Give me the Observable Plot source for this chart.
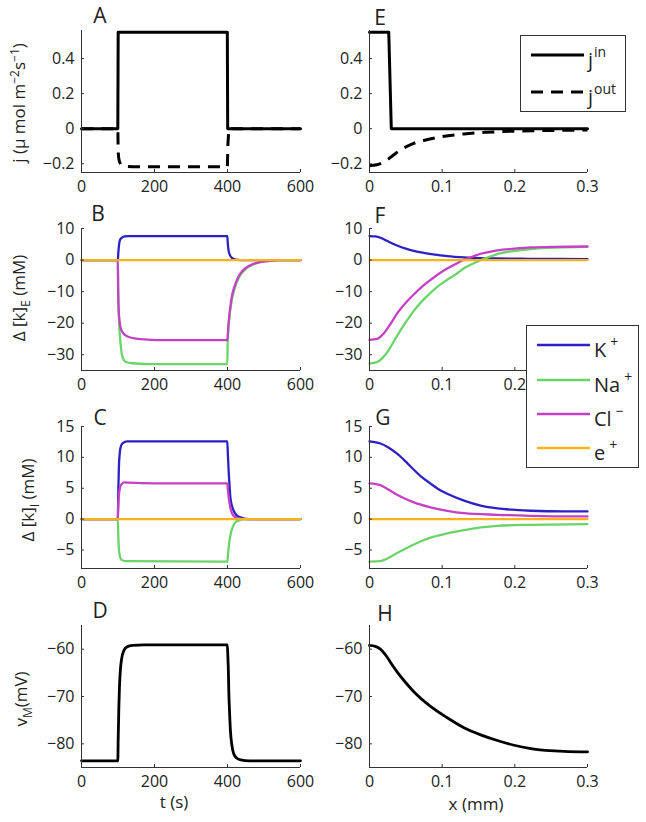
<!DOCTYPE html>
<html><head><meta charset="utf-8">
<script src="https://cdn.jsdelivr.net/npm/d3@7"></script>
<script src="https://cdn.jsdelivr.net/npm/@observablehq/plot@0.6"></script>
<style>
html,body{margin:0;padding:0;background:#fff;}
#root{position:relative;width:646px;height:822px;overflow:hidden;font-family:'Open Sans',sans-serif;color:#222;}
.pl{position:absolute;}
.lab{position:absolute;white-space:nowrap;transform:translate(-50%,-50%);line-height:1;}
.ylab{position:absolute;white-space:nowrap;transform:translate(-50%,-50%) rotate(-90deg);font-size:17px;line-height:1;}
.ylab sup,.ylab sub{font-size:12px;}
</style></head>
<body><div id="root"></div>
<script>
// ---------- colours ----------
const colK = "#2c22c4", colNa = "#6ad46a", colCl = "#c640c6", colE = "#f8b31c";
// ---------- axes ----------
const tDomain = [0, 600], tTicks = [0, 200, 400, 600];
const xDomain = [0, 0.3], xTicks = [0, 0.1, 0.2, 0.3];
const xTicksF = [0, 0.1, 0.2]; // 0.3 hidden under the ion legend
const jDomain = [-0.25, 0.56], jTicks = [-0.2, 0, 0.2, 0.4];
const kEDomain = [-35, 10], kETicks = [-30, -20, -10, 0, 10];
const kIDomain = [-8, 15], kITicks = [-5, 0, 5, 10, 15];
const vDomain = [-85, -55], vTicks = [-80, -70, -60];

// ---------- Panel A (time) ----------
const A_tIn = [0, 99.5, 100.5, 399.5, 400.5, 600];
const A_in = [0, 0, 0.55, 0.55, 0, 0];
const A_tOut = [0, 99.5, 100.5, 103, 107, 112, 120, 140, 399.5, 401, 403, 406, 409, 415, 600];
const A_out = [0, 0, -0.13, -0.18, -0.2, -0.21, -0.215, -0.217, -0.217, -0.1, -0.03, 0.005, 0.003, 0, 0];
// ---------- Panel E (space) ----------
const E_xIn = [0, 0.0265, 0.030, 0.3];
const E_in = [0.55, 0.55, 0, 0];
const E_xOut = [0, 0.01, 0.02, 0.03, 0.045, 0.06, 0.08, 0.1, 0.13, 0.16, 0.2, 0.25, 0.3];
const E_out = [-0.212, -0.206, -0.19, -0.16, -0.115, -0.085, -0.062, -0.045, -0.03, -0.021, -0.014, -0.01, -0.008];

// ---------- Panel B ----------
const B_tK = [0, 99.5, 101, 103, 106, 111, 118, 130, 399.5, 401, 403, 407, 412, 420, 435, 600];
const B_K = [0, 0, 2.5, 5, 6.5, 7.1, 7.5, 7.6, 7.6, 5, 3, 1.5, 0.7, 0.2, 0, 0];
const B_tNa = [0, 99.5, 100.5, 102, 104, 107, 110, 115, 122, 140, 200, 399.5, 400.5, 402, 405, 408, 412, 417, 425, 435, 450, 465, 485, 510, 540, 600];
const B_Na = [0, 0, -10, -17, -22, -26.5, -29.5, -31.5, -32.3, -32.7, -33, -33, -25.8, -22.5, -18.5, -15.5, -12.5, -10, -7.2, -4.8, -2.8, -1.7, -0.8, -0.3, 0, 0];
const B_tCl = [0, 99.5, 100.5, 102, 104, 107, 112, 120, 130, 150, 180, 230, 399.5, 400.5, 402, 405, 408, 412, 417, 425, 435, 450, 465, 485, 510, 540, 600];
const B_Cl = [0, 0, -10, -16, -19, -21.4, -22.8, -23.8, -24.4, -24.9, -25.2, -25.4, -25.4, -24.5, -21.5, -17.5, -14.6, -11.5, -9.2, -6.5, -4.3, -2.5, -1.5, -0.7, -0.3, 0, 0];
const B_tE = [0, 600];
const B_E = [0, 0];
// ---------- Panel F ----------
const F_xK = [0, 0.008, 0.016, 0.024, 0.03, 0.038, 0.05, 0.061, 0.075, 0.09, 0.107, 0.13, 0.153, 0.176, 0.22, 0.26, 0.3];
const F_K = [7.6, 7.5, 7.0, 6.1, 5.4, 4.6, 3.6, 2.9, 2.3, 1.7, 1.25, 0.85, 0.6, 0.5, 0.4, 0.33, 0.3];
const F_xNa = [0, 0.0106, 0.0244, 0.038, 0.05, 0.061, 0.072, 0.084, 0.095, 0.107, 0.12, 0.13, 0.142, 0.153, 0.165, 0.176, 0.199, 0.222, 0.268, 0.3];
const F_Na = [-32.8, -32.3, -29.2, -24, -19.7, -16.1, -13.1, -10.4, -8.2, -6.25, -4.3, -2.6, -1.2, 0, 1.0, 1.9, 2.9, 3.5, 4.0, 4.2];
const F_xCl = [0, 0.0106, 0.0198, 0.029, 0.038, 0.05, 0.061, 0.072, 0.084, 0.095, 0.107, 0.12, 0.13, 0.142, 0.153, 0.165, 0.176, 0.199, 0.222, 0.25, 0.3];
const F_Cl = [-25.3, -25, -23.2, -20.2, -16.9, -13.5, -10.9, -8.5, -6.3, -4.4, -2.7, -1.1, 0.1, 1.1, 2.0, 2.6, 3.1, 3.6, 4.0, 4.2, 4.3];
const F_xE = [0, 0.3];
const F_E = [0, 0];

// ---------- Panel C ----------
const C_tK = [0, 99.5, 101, 102.5, 105, 108, 113, 125, 399.5, 401, 403.6, 406, 408, 412, 417, 425, 436, 450, 470, 600];
const C_K = [0, 0, 5, 8.5, 10.8, 11.8, 12.3, 12.6, 12.6, 10.5, 7.3, 5, 3.5, 2.2, 1.35, 0.6, 0.27, 0.05, 0, 0];
const C_tNa = [0, 99.5, 101, 103, 106, 110, 120, 399.5, 401, 403, 406, 410, 415, 422, 432, 450, 600];
const C_Na = [0, 0, -3, -5.2, -6.2, -6.6, -6.8, -6.9, -6.0, -4.7, -3.3, -2.1, -1.2, -0.5, -0.2, 0, 0];
const C_tCl = [0, 99.5, 101, 103, 106, 110, 118, 130, 200, 399.5, 401, 404, 408, 412, 417, 425, 440, 460, 600];
const C_Cl = [0, 0, 2.5, 4.2, 5.2, 5.7, 5.95, 5.9, 5.8, 5.8, 4.8, 3.2, 1.8, 1.0, 0.5, 0.2, 0.05, 0, 0];
const C_tE = [0, 600];
const C_E = [0, 0];
// ---------- Panel G ----------
const G_xK = [0, 0.015, 0.026, 0.038, 0.05, 0.061, 0.072, 0.084, 0.095, 0.107, 0.13, 0.153, 0.176, 0.2, 0.222, 0.268, 0.3];
const G_K = [12.6, 12.25, 11.6, 10.6, 9.3, 8.0, 6.8, 5.75, 4.85, 4.1, 3.0, 2.2, 1.75, 1.5, 1.35, 1.25, 1.25];
const G_xNa = [0, 0.015, 0.026, 0.038, 0.05, 0.061, 0.084, 0.107, 0.13, 0.153, 0.176, 0.222, 0.3];
const G_Na = [-6.9, -6.8, -6.3, -5.5, -4.75, -4.1, -3.0, -2.33, -1.8, -1.35, -1.08, -0.92, -0.81];
const G_xCl = [0, 0.015, 0.026, 0.038, 0.05, 0.061, 0.084, 0.107, 0.13, 0.176, 0.222, 0.3];
const G_Cl = [5.8, 5.5, 4.8, 3.95, 3.25, 2.7, 1.9, 1.35, 0.97, 0.7, 0.54, 0.43];
const G_xE = [0, 0.3];
const G_E = [0, 0];

// ---------- Panel D ----------
const D_t = [0, 99.5, 100.5, 102.3, 104, 106.8, 110, 116, 125, 140, 170, 399.5, 401, 402.5, 403.6, 405.5, 408, 412, 417, 425, 436, 460, 600];
const D_v = [-83.6, -83.6, -79, -72.4, -68, -64.1, -62, -60.3, -59.5, -59.2, -59.1, -59.1, -61.5, -65, -69, -73, -77.2, -80.3, -82.1, -83, -83.4, -83.6, -83.6];
// ---------- Panel H ----------
const H_x = [0, 0.008, 0.015, 0.022, 0.029, 0.038, 0.05, 0.061, 0.084, 0.107, 0.13, 0.153, 0.176, 0.199, 0.222, 0.268, 0.3];
const H_v = [-59.2, -59.4, -60.0, -61.2, -62.8, -64.8, -67.1, -69, -72.1, -74.5, -76.6, -78.1, -79.3, -80.3, -81, -81.6, -81.7];

// ---------- layout ----------
const FONT = "'Open Sans', sans-serif";
const rowTops = [30, 228, 426, 625];
const plotH = 142;
const colLeft = [{svgLeft: 0, mL: 81, plotW: 219}, {svgLeft: 323, mL: 46, plotW: 218}];
const SVG_W = 323, M_TOP = 30, M_BOT = 30;
const fmt = d3.format("~g");

const zip = (xs, ys) => xs.map((x, i) => ({x, y: ys[i]}));
const root = document.getElementById("root");

function panel(row, col, xd, xt, yd, yt, series) {
  const c = colLeft[col];
  const marks = series.map(s => Plot.line(zip(s.x, s.y), {
    x: "x", y: "y", stroke: s.color, strokeWidth: s.w,
    strokeDasharray: s.dash || null, curve: s.curve || "monotone-x",
    strokeLinejoin: "round", strokeLinecap: s.dash ? "butt" : "round"
  }));
  marks.push(
    Plot.ruleX([xd[0]], {stroke: "#333", strokeWidth: 1}),
    Plot.ruleY([yd[0]], {stroke: "#333", strokeWidth: 1}),
    Plot.tickX(xt, {x: d => d, stroke: "#333", insetTop: plotH - 3}),
    Plot.tickY(yt, {y: d => d, stroke: "#333", insetRight: c.plotW - 3})
  );
  const svg = Plot.plot({
    width: SVG_W, height: M_TOP + plotH + M_BOT,
    marginLeft: c.mL, marginRight: SVG_W - c.mL - c.plotW,
    marginTop: M_TOP, marginBottom: M_BOT,
    x: {domain: xd, ticks: xt, tickSize: 0, tickPadding: 8, tickFormat: fmt, label: null},
    y: {domain: yd, ticks: yt, tickSize: 0, tickPadding: 7, tickFormat: fmt, label: null},
    style: {fontFamily: FONT, fontSize: "16px", color: "#222", background: "transparent", overflow: "visible"},
    marks
  });
  svg.classList.add("pl");
  svg.style.left = c.svgLeft + "px";
  svg.style.top = (rowTops[row] - M_TOP) + "px";
  root.appendChild(svg);
}

const thick = 3, thin = 2.3;
panel(0, 0, tDomain, tTicks, jDomain, jTicks, [
  {x: A_tOut, y: A_out, color: "#000", w: thick, dash: "12,8", curve: "monotone-x"},
  {x: A_tIn, y: A_in, color: "#000", w: thick, curve: "linear"}
]);
panel(0, 1, xDomain, xTicks, jDomain, jTicks, [
  {x: E_xOut, y: E_out, color: "#000", w: thick, dash: "12,8"},
  {x: E_xIn, y: E_in, color: "#000", w: thick, curve: "linear"}
]);
panel(1, 0, tDomain, tTicks, kEDomain, kETicks, [
  {x: B_tK, y: B_K, color: colK, w: thin},
  {x: B_tNa, y: B_Na, color: colNa, w: thin},
  {x: B_tCl, y: B_Cl, color: colCl, w: thin},
  {x: B_tE, y: B_E, color: colE, w: thin, curve: "linear"}
]);
panel(1, 1, xDomain, xTicksF, kEDomain, kETicks, [
  {x: F_xK, y: F_K, color: colK, w: thin},
  {x: F_xNa, y: F_Na, color: colNa, w: thin},
  {x: F_xCl, y: F_Cl, color: colCl, w: thin},
  {x: F_xE, y: F_E, color: colE, w: thin, curve: "linear"}
]);
panel(2, 0, tDomain, tTicks, kIDomain, kITicks, [
  {x: C_tK, y: C_K, color: colK, w: thin},
  {x: C_tNa, y: C_Na, color: colNa, w: thin},
  {x: C_tCl, y: C_Cl, color: colCl, w: thin},
  {x: C_tE, y: C_E, color: colE, w: thin, curve: "linear"}
]);
panel(2, 1, xDomain, xTicks, kIDomain, kITicks, [
  {x: G_xK, y: G_K, color: colK, w: thin},
  {x: G_xNa, y: G_Na, color: colNa, w: thin},
  {x: G_xCl, y: G_Cl, color: colCl, w: thin},
  {x: G_xE, y: G_E, color: colE, w: thin, curve: "linear"}
]);
panel(3, 0, tDomain, tTicks, vDomain, vTicks, [
  {x: D_t, y: D_v, color: "#000", w: 2.8}
]);
panel(3, 1, xDomain, xTicks, vDomain, vTicks, [
  {x: H_x, y: H_v, color: "#000", w: 2.8}
]);

// ---------- text ----------
function addText(html, cx, cy, cls, size) {
  const d = document.createElement("div");
  d.className = cls;
  d.innerHTML = html;
  d.style.left = cx + "px"; d.style.top = cy + "px";
  if (size) d.style.fontSize = size + "px";
  root.appendChild(d);
}
const panelLabels = ["A", "E", "B", "F", "C", "G", "D", "H"];
const panelLabelPos = [[100, 15], [380, 17], [98, 213], [380, 215], [100, 417], [383, 417], [100, 610], [385, 613]];
panelLabels.forEach((t, i) => addText(t, panelLabelPos[i][0], panelLabelPos[i][1], "lab", 21));

addText("j (μ mol m<sup>−2</sup>s<sup>−1</sup>)", 18, 103, "ylab");
addText("Δ [k]<sub>E</sub> (mM)", 21, 298, "ylab");
addText("Δ [k]<sub>I</sub> (mM)", 30, 500, "ylab");
addText("v<sub>M</sub>(mV)", 23, 699, "ylab");
addText("t (s)", 174, 801, "lab", 17);
addText("x (mm)", 476, 803, "lab", 17);

// ---------- legends ----------
const NS = "http://www.w3.org/2000/svg";
function legend(left, top, w, h, items, rowYs) {
  const s = document.createElementNS(NS, "svg");
  s.setAttribute("width", w); s.setAttribute("height", h);
  s.style.position = "absolute"; s.style.left = left + "px"; s.style.top = top + "px";
  s.style.overflow = "visible";
  let html = `<rect x="0.5" y="0.5" width="${w - 1}" height="${h - 1}" fill="#fff" stroke="#333" stroke-width="1"/>`;
  items.forEach((it, i) => {
    const y = rowYs[i];
    html += `<line x1="11" x2="64" y1="${y}" y2="${y}" stroke="${it.color}" stroke-width="${it.w}" ${it.dash ? `stroke-dasharray="${it.dash}"` : ""}/>`;
    html += `<text x="68" y="${y + it.base}" font-family="${FONT}" font-size="20" fill="#222">${it.label}<tspan font-size="14" dx="${it.supDx}" dy="-10">${it.sup}</tspan></text>`;
  });
  s.innerHTML = html;
  root.appendChild(s);
}
const fluxLabels = ["j", "j"], fluxSups = ["in", "out"];
legend(520, 35, 106, 77, [
  {label: fluxLabels[0], sup: fluxSups[0], color: "#000", w: 3, base: 12, supDx: 1},
  {label: fluxLabels[1], sup: fluxSups[1], color: "#000", w: 3, dash: "12,8", base: 12, supDx: 1}
], [20, 57]);
const ionLabels = ["K", "Na", "Cl", "e"], ionSups = ["+", "+", "−", "+"];
legend(526, 325, 113, 143, [
  {label: ionLabels[0], sup: ionSups[0], color: colK, w: 2.3, base: 12, supDx: 4},
  {label: ionLabels[1], sup: ionSups[1], color: colNa, w: 2.3, base: 12, supDx: 4},
  {label: ionLabels[2], sup: ionSups[2], color: colCl, w: 2.3, base: 12, supDx: 4},
  {label: ionLabels[3], sup: ionSups[3], color: colE, w: 2.3, base: 12, supDx: 4}
], [20, 55, 89, 123]);
</script></body></html>
